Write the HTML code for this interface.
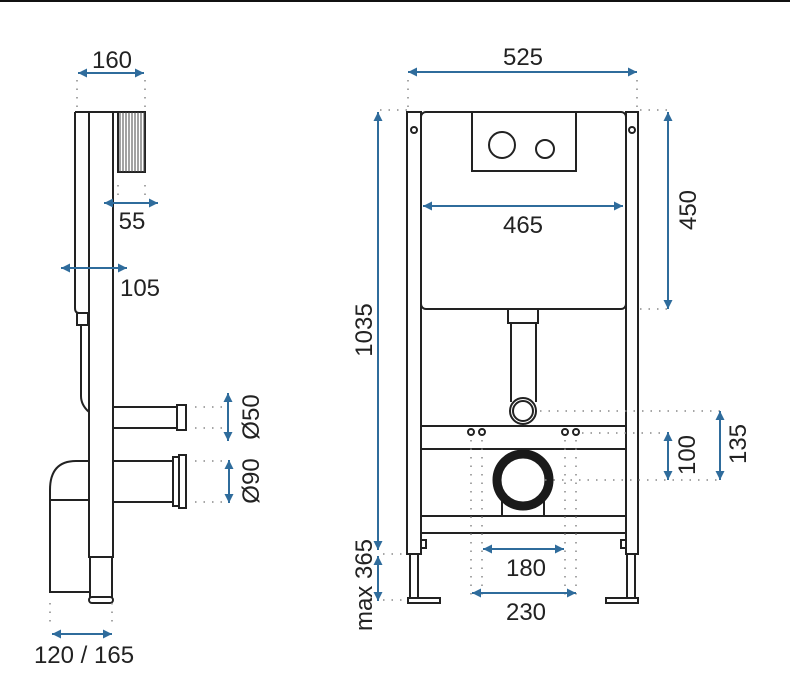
<!DOCTYPE html>
<html><head><meta charset="utf-8"><style>
html,body{margin:0;padding:0;background:#fff;}
svg{display:block;}
text{font-family:"Liberation Sans",Arial,sans-serif;fill:#222;font-size:24px;}
</style></head><body>
<svg width="790" height="700" viewBox="0 0 790 700" xmlns="http://www.w3.org/2000/svg">
<defs>
<marker id="a" viewBox="0 0 10 10" refX="10" refY="5" markerWidth="14" markerHeight="9" orient="auto-start-reverse" markerUnits="userSpaceOnUse"><path d="M0,0 L10,5 L0,10 z" fill="#2f6c9c"/></marker>
</defs>
<line x1="0" y1="1" x2="790" y2="1" stroke="#111" stroke-width="2"/>

<!-- LEFT SIDE VIEW -->
<g fill="none" stroke="#222" stroke-width="2">
<path d="M75,112 H146"/>
<path d="M75,112 V308 Q75,313 79,313 H88"/>
<rect x="77" y="313" width="11" height="12"/>
<path d="M81,325 V396 Q81,405 89,412"/>
<rect x="89" y="112" width="24" height="445"/>
<rect x="118" y="112" width="27" height="60"/>
<path d="M90,557 V598 M112,557 V598"/>
<rect x="89" y="597" width="24" height="6" rx="3"/>
<path d="M113,407 H177 M113,428 H177"/>
<rect x="177" y="405" width="9" height="25"/>
<path d="M113,461 H173 M113,502 H173"/>
<rect x="173" y="457" width="6" height="49"/>
<path d="M179,455 H186 V508 H179 Z"/>
<path d="M89,461 H76 Q50,461 50,490 V592 H89"/>
<path d="M50,500 H89"/>
</g>
<g stroke="#444" stroke-width="1">
<path d="M120,112 V172 M123,112 V172 M126,112 V172 M129,112 V172 M132,112 V172 M135,112 V172 M138,112 V172 M141,112 V172 M144,112 V172"/>
</g>
<g stroke="#888" stroke-width="1.5" stroke-dasharray="1.5 7" fill="none">
<path d="M77,80 V112 M145,80 V112"/>
<path d="M118,185 V200 M145,185 V200"/>
<path d="M195,407 H226 M195,428 H226 M195,461 H226 M195,502 H226"/>
<path d="M50,603 V628 M112,603 V628"/>
</g>
<g stroke="#2f6c9c" stroke-width="2" fill="none">
<line x1="78" y1="73" x2="144" y2="73" marker-start="url(#a)" marker-end="url(#a)"/>
<line x1="104" y1="203" x2="158" y2="203" marker-start="url(#a)" marker-end="url(#a)"/>
<line x1="61" y1="268" x2="127" y2="268" marker-start="url(#a)" marker-end="url(#a)"/>
<line x1="228" y1="393" x2="228" y2="441" marker-start="url(#a)" marker-end="url(#a)"/>
<line x1="229" y1="460" x2="229" y2="503" marker-start="url(#a)" marker-end="url(#a)"/>
<line x1="52" y1="634" x2="112" y2="634" marker-start="url(#a)" marker-end="url(#a)"/>
</g>
<text x="112" y="68" text-anchor="middle">160</text>
<text x="132" y="229" text-anchor="middle">55</text>
<text x="140" y="296" text-anchor="middle">105</text>
<text transform="translate(259,417) rotate(-90)" text-anchor="middle">Ø50</text>
<text transform="translate(259,481) rotate(-90)" text-anchor="middle">Ø90</text>
<text x="84" y="663" text-anchor="middle">120 / 165</text>

<!-- FRONT VIEW -->
<g fill="none" stroke="#222" stroke-width="2">
<rect x="407" y="112" width="14" height="442"/>
<rect x="626" y="112" width="12" height="442"/>
<circle cx="414" cy="130" r="3"/>
<circle cx="632" cy="130" r="3"/>
<rect x="421" y="112" width="205" height="197" rx="5"/>
<rect x="472" y="112" width="104" height="59"/>
<circle cx="502" cy="145" r="13"/>
<circle cx="545" cy="149" r="9"/>
<rect x="508" y="309" width="30" height="14"/>
<path d="M511,323 V402 M536,323 V402"/>
<circle cx="523" cy="411" r="13"/>
<circle cx="523" cy="411" r="10"/>
<rect x="421" y="426" width="205" height="23"/>
<circle cx="471" cy="432" r="3"/><circle cx="482" cy="432" r="3"/>
<circle cx="565" cy="432" r="3"/><circle cx="576" cy="432" r="3"/>
<path d="M502,500 V516 M544,500 V516"/>
<rect x="421" y="516" width="205" height="17"/>
<rect x="421" y="540" width="5" height="8"/>
<rect x="621" y="540" width="5" height="8"/>
<path d="M410,554 V598 M418,554 V598"/>
<rect x="408" y="598" width="32" height="5"/>
<path d="M627,554 V598 M635,554 V598"/>
<rect x="606" y="598" width="32" height="5"/>
</g>
<circle cx="523" cy="480" r="26" fill="none" stroke="#1a1a1a" stroke-width="9"/>
<g stroke="#888" stroke-width="1.5" stroke-dasharray="1.5 7" fill="none">
<path d="M408,80 V112 M637,80 V112"/>
<path d="M380,110 H408 M640,110 H668 M640,309 H668"/>
<path d="M383,554 H407 M383,600 H408"/>
<path d="M471,440 V600 M482,440 V600 M565,440 V600 M576,440 V600"/>
<path d="M540,411 H720 M582,433 H668 M545,480 H720"/>
</g>
<g stroke="#2f6c9c" stroke-width="2" fill="none">
<line x1="408" y1="72" x2="637" y2="72" marker-start="url(#a)" marker-end="url(#a)"/>
<line x1="423" y1="206" x2="623" y2="206" marker-start="url(#a)" marker-end="url(#a)"/>
<line x1="378" y1="112" x2="378" y2="550" marker-start="url(#a)" marker-end="url(#a)"/>
<line x1="378" y1="556" x2="378" y2="601" marker-start="url(#a)" marker-end="url(#a)"/>
<line x1="668" y1="112" x2="668" y2="309" marker-start="url(#a)" marker-end="url(#a)"/>
<line x1="668" y1="432" x2="668" y2="480" marker-start="url(#a)" marker-end="url(#a)"/>
<line x1="720" y1="411" x2="720" y2="480" marker-start="url(#a)" marker-end="url(#a)"/>
<line x1="483" y1="549" x2="564" y2="549" marker-start="url(#a)" marker-end="url(#a)"/>
<line x1="472" y1="593" x2="576" y2="593" marker-start="url(#a)" marker-end="url(#a)"/>
</g>
<text x="523" y="65" text-anchor="middle">525</text>
<text x="523" y="233" text-anchor="middle">465</text>
<text transform="translate(372,330) rotate(-90)" text-anchor="middle">1035</text>
<text transform="translate(372,585) rotate(-90)" text-anchor="middle">max 365</text>
<text transform="translate(696,210) rotate(-90)" text-anchor="middle">450</text>
<text transform="translate(695,455) rotate(-90)" text-anchor="middle">100</text>
<text transform="translate(746,444) rotate(-90)" text-anchor="middle">135</text>
<text x="526" y="576" text-anchor="middle">180</text>
<text x="526" y="620" text-anchor="middle">230</text>
</svg>
</body></html>
